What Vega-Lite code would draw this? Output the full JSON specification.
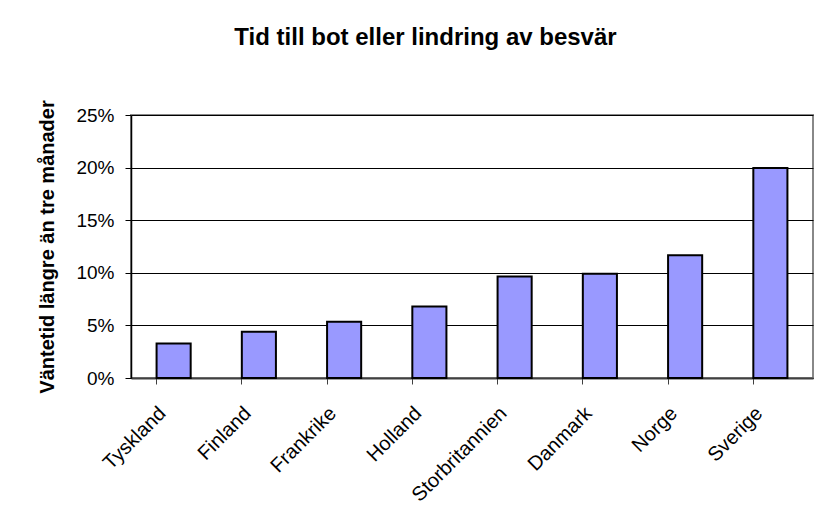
{
  "$schema": "https://vega.github.io/schema/vega-lite/v6.json",
  "autosize": {"type": "none"},
  "width": 682,
  "height": 263,
  "padding": {"left": 131, "top": 115, "right": 10, "bottom": 151},
  "background": "white",
  "title": {
    "text": "Tid till bot eller lindring av besvär",
    "font": "Liberation Sans",
    "fontSize": 24,
    "fontWeight": "bold",
    "color": "black",
    "anchor": "middle",
    "frame": "bounds",
    "baseline": "bottom",
    "offset": 26
  },
  "data": {
    "values": [
      {"land": "Tyskland", "andel": 0.0327},
      {"land": "Finland", "andel": 0.044},
      {"land": "Frankrike", "andel": 0.0535},
      {"land": "Holland", "andel": 0.068},
      {"land": "Storbritannien", "andel": 0.0964},
      {"land": "Danmark", "andel": 0.099},
      {"land": "Norge", "andel": 0.1166},
      {"land": "Sverige", "andel": 0.1996}
    ]
  },
  "mark": {"type": "bar", "fill": "#9999FF", "stroke": "black", "strokeWidth": 2},
  "encoding": {
    "x": {
      "field": "land",
      "type": "nominal",
      "sort": null,
      "scale": {"paddingInner": 0.6, "paddingOuter": 0.3},
      "axis": {
        "title": null,
        "bandPosition": 0,
        "labelOffset": -11,
        "labelAngle": -45,
        "labelAlign": "right",
        "labelBaseline": "middle",
        "labelPadding": 26,
        "labelFont": "Liberation Sans",
        "labelFontSize": 20,
        "labelColor": "black",
        "tickSize": 6,
        "tickColor": "#404040",
        "domainColor": "#404040",
        "domainWidth": 2,
        "grid": false
      }
    },
    "y": {
      "field": "andel",
      "type": "quantitative",
      "scale": {"domain": [0, 0.25], "nice": false},
      "axis": {
        "title": "Väntetid längre än tre månader",
        "titleFont": "Liberation Sans",
        "titleFontSize": 20,
        "titleFontWeight": "bold",
        "titleColor": "black",
        "titlePadding": 18,
        "values": [0, 0.05, 0.1, 0.15, 0.2, 0.25],
        "format": ".0%",
        "labelFont": "Liberation Sans",
        "labelFontSize": 19,
        "labelColor": "black",
        "labelPadding": 11,
        "tickSize": 6,
        "tickColor": "black",
        "domainColor": "black",
        "domainWidth": 1.5,
        "grid": true,
        "gridColor": "black",
        "gridWidth": 1
      }
    }
  },
  "config": {
    "view": {"stroke": "#888888", "strokeWidth": 2},
    "axis": {"labelFontWeight": "normal"}
  }
}
